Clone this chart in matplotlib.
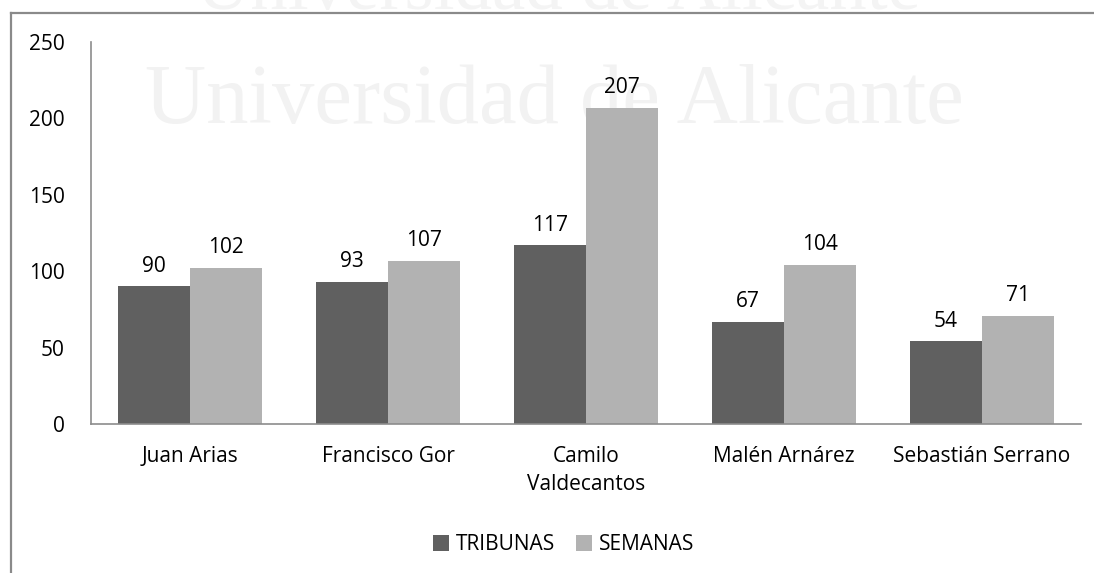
import numpy as np
import matplotlib.pyplot as plt
from matplotlib.lines import Line2D

categorias = ['Juan Arias', 'Francisco Gor', 'Camilo\nValdecantos', 'Malén Arnárez', 'Sebastián Serrano']
tribunas = [90, 93, 117, 67, 54]
semanas = [102, 107, 207, 104, 71]
yticks = [0, 50, 100, 150, 200, 250]

plt.rcParams['font.family'] = ['Open Sans', 'DejaVu Sans']

fig = plt.figure(figsize=(10.94, 5.73), dpi=100)

# marca de agua de fondo
fig.text(0.51, 0.985, 'Universidad de Alicante', family='Liberation Serif', fontsize=54,
         color='#f4f4f4', ha='center', va='baseline', zorder=-5)
fig.text(0.507, 0.785, 'Universidad de Alicante', family='Liberation Serif', fontsize=61,
         color='#f2f2f2', ha='center', va='baseline', zorder=-5)

# marco
fig.add_artist(Line2D([11/1094, 1], [1-13/573, 1-13/573], color='#8a8a8a', lw=1.6))
fig.add_artist(Line2D([11/1094, 11/1094], [0, 1-13/573], color='#8a8a8a', lw=1.6))

ax = fig.add_axes([91/1094, 1-424/573, (1081-91)/1094, (424-42)/573])
ax.patch.set_alpha(0)

x = np.arange(len(categorias))
w = 0.3636
b1 = ax.bar(x - w/2, tribunas, w, color='#606060', label='TRIBUNAS')
b2 = ax.bar(x + w/2, semanas, w, color='#b2b2b2', label='SEMANAS')

for bars, vals in [(b1, tribunas), (b2, semanas)]:
    for r, v in zip(bars, vals):
        ax.annotate(str(v), (r.get_x() + r.get_width()/2, v), xytext=(0, 7),
                    textcoords='offset points', ha='center', va='bottom', fontsize=15)

ax.set_xlim(-0.5, len(categorias) - 0.5)
ax.set_ylim(0, 250)
ax.set_yticks(yticks)
ax.set_xticks(x)
ax.set_xticklabels(categorias, fontsize=15, linespacing=1.45)
ax.tick_params(axis='y', length=0, pad=19, labelsize=15)
ax.tick_params(axis='x', length=0, pad=16)
for s in ['top', 'right']:
    ax.spines[s].set_visible(False)
for s in ['left', 'bottom']:
    ax.spines[s].set_color('#8c8c8c')
    ax.spines[s].set_linewidth(1.2)

fig.legend(loc='center', bbox_to_anchor=(0.515, 1-545/573), ncol=2, frameon=False,
           fontsize=15, handlelength=0.8, handleheight=0.8, handletextpad=0.3, columnspacing=1.0)

fig.savefig('out.png', dpi=100)
